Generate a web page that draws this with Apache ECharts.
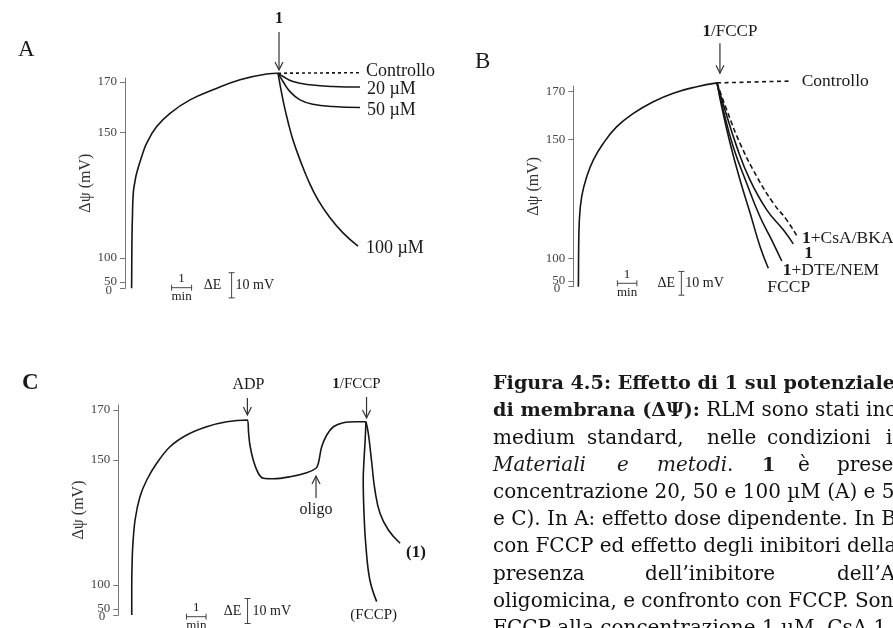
<!DOCTYPE html>
<html>
<head>
<meta charset="utf-8">
<script src="https://cdn.jsdelivr.net/npm/echarts@6/dist/echarts.min.js"></script>
<style>
html, body { margin: 0; padding: 0; background: #fff; }
#main { width: 893px; height: 628px; }
</style>
</head>
<body>
<div id="main"></div>
<script>
// y axis ticks (mV); the axis is broken below 100
var yTicks = [0, 50, 100, 150, 170];
var yLabels = [50, 100, 150, 170];   // "0" is written separately, under "50"

// panel A  [time (min), delta psi (mV)]
var aRise = [[0.33,0],[0.335,60],[0.34,100],[0.35,108],[0.37,116],[0.415,125.9],[0.5,130.5],[0.585,133.8],[0.835,140.3],[1.085,145.6],[1.585,152.2],[2.25,157.5],[3.25,162.8],[4.4,166.8],[5.75,170.8],[7.08,173.1],[7.65,173.4]];
var aControllo = [[7.65,173.4],[11.8,173.6]];
var a20 = [[7.65,173.4],[7.9,172.1],[8.4,170.1],[9.25,168.8],[10.4,168.1],[11.75,167.9]];
var a50 = [[7.65,173.4],[7.9,170.1],[8.25,166.1],[8.75,162.8],[9.4,161.1],[10.4,160.2],[11.75,159.8]];
var a100 = [[7.65,173.4],[7.8,166.8],[7.95,160.8],[8.15,154.1],[8.4,146.9],[8.75,139],[9.15,131.1],[9.65,123.1],[10.25,116],[10.9,110],[11.65,104.7]];

// panel B
var bRise = [[0.26,0],[0.265,60],[0.27,100],[0.31,116],[0.43,125.9],[0.69,134.3],[1.03,141.3],[1.54,148.3],[2.23,155.3],[3.08,160.9],[4.1,165.8],[5.13,169.4],[6.33,172.1],[7.37,173.7]];
var bControllo = [[7.37,173.7],[11.2,174.5]];
var bCsA = [[7.37,173.7],[7.87,162.3],[8.55,148.3],[9.41,134.3],[10.26,123.1],[10.94,116.1],[11.47,109.3]];
var b1 = [[7.37,173.7],[7.78,162.3],[8.38,146.9],[9.06,132.9],[9.92,120.3],[10.77,111.9],[11.28,106]];
var bDTE = [[7.37,173.7],[7.69,162.3],[8.2,146.9],[8.89,131.5],[9.57,117.5],[10.17,107.7],[10.69,93.7]];
var bFCCP = [[7.37,173.7],[7.61,163.7],[8.04,148.3],[8.55,132.9],[9.07,118.9],[9.58,104.8],[10.0,77.6]];

// panel C
var cMain = [[0.69,0],[0.69,60],[0.69,100],[0.7,106],[0.74,115.3],[0.86,126],[1.11,135.3],[1.46,142],[1.97,148.7],[2.65,155.3],[3.51,160],[4.53,163.3],[5.56,165.3],[6.62,166],[6.68,161],[6.75,156],[6.92,150],[7.18,144.7],[7.44,142.7],[7.95,142.5],[8.81,143.3],[9.66,144.9],[10.14,146.7],[10.26,148.7],[10.43,155.3],[10.69,160],[11.03,163.3],[11.54,164.9],[12.23,165.3],[12.7,165.3]];
var cFCCP = [[12.7,165.3],[12.66,158],[12.6,150],[12.56,142],[12.6,128.7],[12.7,115.3],[12.9,102],[13.25,65]];
var c1 = [[12.7,165.3],[12.82,160.7],[13.0,148.7],[13.16,138],[13.42,128.7],[13.85,122],[14.45,116.7]];

// broken axis: 50-100 and 0-50 mV squeezed
function brk(v) {
  if (v >= 100) return v;
  if (v >= 50) return 90.5 + (v - 50) * 9.5 / 50;
  return 88 + v * 2.5 / 50;
}
function unbrk(u) {
  if (u >= 100) return u;
  if (u >= 90.5) return 50 + (u - 90.5) * 50 / 9.5;
  return (u - 88) * 50 / 2.5;
}

var serif = 'Liberation Serif';
var ink = '#161616';

var chart = echarts.init(document.getElementById('main'));

function yAx(g, max) {
  return {
    type: 'value', gridIndex: g, min: brk(0), max: max,
    name: 'Δψ (mV)', nameLocation: 'middle', nameGap: 29,
    nameTextStyle: { fontFamily: serif, fontSize: 16, color: '#333' },
    splitLine: { show: false },
    axisLine: { show: true, lineStyle: { color: '#777', width: 1 } },
    axisTick: { show: true, length: 5, lineStyle: { color: '#777' }, customValues: yTicks.map(brk) },
    axisLabel: {
      customValues: yLabels.map(brk), margin: 8,
      fontFamily: serif, fontSize: 13, color: '#444',
      formatter: function (v) { return String(Math.round(unbrk(v))); }
    }
  };
}
function xAx(g, max) {
  return { type: 'value', gridIndex: g, min: 0, max: max, show: false };
}
function line(g, data, dash, smooth) {
  return {
    type: 'line', xAxisIndex: g, yAxisIndex: g,
    data: data.map(function (p) { return [p[0], brk(p[1])]; }),
    showSymbol: false, symbol: 'none', clip: false, silent: true,
    smooth: smooth === undefined ? 0.45 : smooth,
    lineStyle: { color: ink, width: 1.6, type: dash || 'solid' }
  };
}

option = {
  animation: false,
  grid: [
    { left: 125, top: 78, width: 240, height: 210.3, outerBoundsMode: 'none' },
    { left: 573.3, top: 86, width: 234, height: 200.7, outerBoundsMode: 'none' },
    { left: 118.3, top: 405, width: 292.5, height: 210, outerBoundsMode: 'none' }
  ],
  xAxis: [xAx(0, 12), xAx(1, 12), xAx(2, 15)],
  yAxis: [yAx(0, 171.5), yAx(1, 172.4), yAx(2, 172)],
  series: [
    line(0, aRise),
    line(0, aControllo, [3, 3], false),
    line(0, a20),
    line(0, a50),
    line(0, a100),
    line(1, bRise),
    line(1, bControllo, [4, 3.5], false),
    line(1, bCsA, [5, 3]),
    line(1, b1),
    line(1, bDTE),
    line(1, bFCCP),
    line(2, cMain, null, 0.35),
    line(2, cFCCP, null, 0.4),
    line(2, c1)
  ]
};
chart.setOption(option);

// ---- annotations ----
function P(g, t, v) { return chart.convertToPixel({ gridIndex: g }, [t, brk(v)]); }
function last(d) { return d[d.length - 1]; }

var els = [];
function txt(x, y, s, size, opt) {
  opt = opt || {};
  var st = {
    text: s, fontFamily: opt.family || serif, fontSize: size,
    fontWeight: opt.weight || 'normal', fontStyle: opt.style || 'normal',
    fill: opt.color || '#1a1a1a',
    textAlign: opt.align || 'left', align: opt.align || 'left',
    textVerticalAlign: 'middle', verticalAlign: 'middle'
  };
  if (opt.rich) st.rich = opt.rich;
  els.push({ type: 'text', x: x, y: y, silent: true, style: st });
}
function seg(x1, y1, x2, y2, w, c) {
  els.push({ type: 'line', silent: true, shape: { x1: x1, y1: y1, x2: x2, y2: y2 }, style: { stroke: c || '#333', lineWidth: w || 1.2 } });
}
function arrow(x, yTip, len, up) {
  var d = up ? 8 : -8;
  seg(x, up ? yTip + len : yTip - len, x, yTip);
  els.push({ type: 'polyline', silent: true, shape: { points: [[x - 4, yTip + d], [x, yTip], [x + 4, yTip + d]] }, style: { stroke: '#333', lineWidth: 1.2, fill: null } });
}
var boldRich = function (size, fam, bsize) {
  return {
    b: { fontFamily: fam || serif, fontSize: bsize || size, fontWeight: 'bold', fill: '#1a1a1a' },
    i: { fontFamily: fam || serif, fontSize: size, fontStyle: 'italic', fill: '#1a1a1a' }
  };
};

// panel letters
txt(18, 50, 'A', 23);
txt(475, 62, 'B', 23);
txt(22, 383, 'C', 23, { weight: 'bold' });

// "0" at the foot of each broken axis
[0, 1, 2].forEach(function (g) {
  var z = P(g, 0, 0);
  txt(z[0] - 13, z[1] + 2, '0', 13, { color: '#444', align: 'right' });
});

// arrows with their labels
var p;
p = P(0, 7.7, 174.7); arrow(p[0], p[1], 38); txt(p[0], p[1] - 51, '1', 16, { weight: 'bold', align: 'center' });
p = P(1, 7.52, 177.8); arrow(p[0], p[1], 30); txt(p[0] + 10, p[1] - 42, '{b|1}/FCCP', 17, { align: 'center', rich: boldRich(17) });
p = P(2, 6.62, 168); arrow(p[0], p[1], 17); txt(p[0] + 1, p[1] - 30, 'ADP', 16, { align: 'center' });
p = P(2, 12.73, 166.8); arrow(p[0], p[1], 21); txt(p[0] - 10, p[1] - 34, '{b|1}/FCCP', 15, { align: 'center', rich: boldRich(15) });
p = P(2, 10.14, 143.6); arrow(p[0], p[1], 22, true); txt(p[0], p[1] + 34, 'oligo', 16, { align: 'center' });

// curve end labels
p = P(0, last(aControllo)[0], last(aControllo)[1]); txt(p[0] + 5, p[1] - 1, 'Controllo', 18);
p = P(0, last(a20)[0], last(a20)[1]); txt(p[0] + 7, p[1] + 2, '20 µM', 18);
p = P(0, last(a50)[0], last(a50)[1]); txt(p[0] + 7, p[1] + 3, '50 µM', 18);
p = P(0, last(a100)[0], last(a100)[1]); txt(p[0] + 8, p[1] + 2, '100 µM', 18);
p = P(1, last(bControllo)[0], last(bControllo)[1]); txt(p[0] + 10, p[1], 'Controllo', 17.5);
p = P(1, last(bCsA)[0], last(bCsA)[1]); txt(p[0] + 5, p[1] + 2, '{b|1}+CsA/BKA', 17.5, { rich: boldRich(17.5) });
p = P(1, last(b1)[0], last(b1)[1]); txt(p[0] + 11, p[1] + 10, '1', 17.5, { weight: 'bold' });
p = P(1, last(bDTE)[0], last(bDTE)[1]); txt(p[0] + 1, p[1] + 9, '{b|1}+DTE/NEM', 17.5, { rich: boldRich(17.5) });
p = P(1, last(bFCCP)[0], last(bFCCP)[1]); txt(p[0] - 1, p[1] + 19, 'FCCP', 17.5);
p = P(2, last(c1)[0], last(c1)[1]); txt(p[0] + 6, p[1] + 9, '(1)', 17, { weight: 'bold' });
p = P(2, last(cFCCP)[0], last(cFCCP)[1]); txt(p[0] - 3, p[1] + 13, '(FCCP)', 15, { align: 'center' });

// scale bars: 1 min and 10 mV
var bars = [
  { g: 0, t0: 2.33, barDy: -0.6, txtDy: -3, dE: 41, br: 60, mv: 64 },
  { g: 1, t0: 2.26, barDy: -3.4, txtDy: -3.4, dE: 49, br: 64, mv: 68 },
  { g: 2, t0: 3.5, barDy: 1.7, txtDy: -4, dE: 46, br: 61, mv: 66 }
];
bars.forEach(function (b) {
  var a = P(b.g, b.t0, 0), e = P(b.g, b.t0 + 1, 0);
  var y = a[1] + b.barDy, x0 = a[0], x1 = e[0];
  seg(x0, y, x1, y, 1, '#444');
  seg(x0, y - 3, x0, y + 3, 1, '#444');
  seg(x1, y - 3, x1, y + 3, 1, '#444');
  txt((x0 + x1) / 2, y - 9, '1', 13, { align: 'center' });
  txt((x0 + x1) / 2, y + 9, 'min', 13, { align: 'center' });
  var h = P(b.g, 0, 150)[1] - P(b.g, 0, 160)[1];
  var yc = a[1] + b.txtDy, bx = x0 + b.br;
  seg(bx, yc - h / 2, bx, yc + h / 2, 1, '#444');
  seg(bx - 3, yc - h / 2, bx + 3, yc - h / 2, 1, '#444');
  seg(bx - 3, yc + h / 2, bx + 3, yc + h / 2, 1, '#444');
  txt(x0 + b.dE, yc, 'ΔE', 14, { align: 'center' });
  txt(x0 + b.mv, yc, '10 mV', 14);
});

// caption (right of panel C)
var capFam = 'DejaVu Serif', capSize = 20, capBold = 19.2, capY0 = 384, capDy = 27.2;
var capLines = [
  [[493, '{b|Figura 4.5: Effetto di 1 sul potenziale}']],
  [[493, '{b|di membrana (ΔΨ):} RLM sono stati incubati']],
  [[493, 'medium'], [587, 'standard,'], [707, 'nelle'], [767, 'condizioni'], [886, 'indicate']],
  [[493, '{i|Materiali}'], [617, '{i|e}'], [657, '{i|metodi}.'], [762, '{b|1}'], [798, 'è'], [837, 'presente']],
  [[493, 'concentrazione 20, 50 e 100 µM (A) e 50']],
  [[493, 'e C). In A: effetto dose dipendente. In B:']],
  [[493, 'con FCCP ed effetto degli inibitori della']],
  [[493, 'presenza'], [645, 'dell’inibitore'], [837, 'dell’ATP']],
  [[493, 'oligomicina, e confronto con FCCP. Sono']],
  [[493, 'FCCP alla concentrazione 1 µM, CsA 1 µM']]
];
capLines.forEach(function (ln, k) {
  ln.forEach(function (w) {
    txt(w[0], capY0 + k * capDy, w[1], capSize, { family: capFam, color: '#111', rich: boldRich(capSize, capFam, capBold) });
  });
});

chart.setOption({ graphic: { elements: els } });
</script>
</body>
</html>
